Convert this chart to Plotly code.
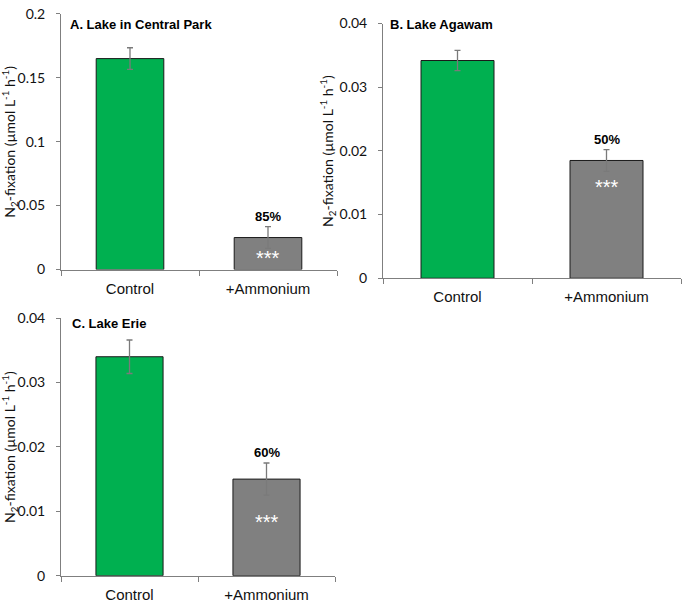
import plotly.graph_objects as go

W, H = 682, 608

categories = ["Control", "+Ammonium"]

panel_titles = ["A. Lake in Central Park", "B. Lake Agawam", "C. Lake Erie"]
values_A = [0.165, 0.025]
errors_A = [0.0085, 0.0085]
values_B = [0.0342, 0.0185]
errors_B = [0.0016, 0.0017]
values_C = [0.034, 0.015]
errors_C = [0.0026, 0.0025]
reduction_labels = ["85%", "50%", "60%"]
significance = ["***", "***", "***"]
y_max = [0.2, 0.04, 0.04]
y_dtick = [0.05, 0.01, 0.01]

values = [values_A, values_B, values_C]
errors = [errors_A, errors_B, errors_C]

bar_colors = ["#00B050", "#808080"]
axis_color = "#7f7f7f"

# pixel layout of each panel: (left, right, top, bottom)
px_boxes = [(61, 337, 5, 268), (383, 681, 15, 277), (61, 335, 318, 583)]
ytitle_x = [10, 328, 10]
title_pos = [(68, 16), (388, 16), (70, 324)]
star_shift = [-20, -27, -43]

fig = go.Figure()

def px_x(p):
    return p / W

def px_y(p):
    return 1 - p / H

layout = dict(
    width=W, height=H, margin=dict(l=0, r=0, t=0, b=0),
    paper_bgcolor="white", plot_bgcolor="white", showlegend=False,
    bargap=0.51,
)
annotations = []

ytitle = "N<sub>2</sub>-fixation (µmol L<sup>-1</sup> h<sup>-1</sup>)"

for i in range(3):
    sfx = "" if i == 0 else str(i + 1)
    l, r, t, b = px_boxes[i]
    fig.add_trace(go.Bar(
        x=categories, y=values[i],
        marker=dict(color=bar_colors, line=dict(color="#1a1a1a", width=1)),
        width=0.49,
        error_y=dict(type="data", array=errors[i], color="#7a7a7a", thickness=1.3, width=3),
        xaxis="x" + sfx, yaxis="y" + sfx,
    ))
    layout["xaxis" + sfx] = dict(
        domain=[px_x(l), px_x(r)], anchor="y" + sfx, type="category",
        range=[-0.5, 1.5], tickson="boundaries", ticks="outside", ticklen=5,
        tickcolor=axis_color, showline=True, linecolor=axis_color, linewidth=1,
        showgrid=False, zeroline=False,
        tickfont=dict(family="Liberation Sans, Arial", size=15, color="#111"),
        ticklabelstandoff=5,
    )
    layout["yaxis" + sfx] = dict(
        domain=[px_y(b), px_y(t)], anchor="x" + sfx,
        range=[0, y_max[i]], dtick=y_dtick[i], tick0=0,
        ticks="outside", ticklen=4, tickcolor=axis_color,
        showline=True, linecolor=axis_color, linewidth=1,
        showgrid=False, zeroline=False,
        tickfont=dict(family="Lato, Calibri", size=14, color="#111"),
        ticklabelstandoff=8,
    )
    # panel title
    annotations.append(dict(
        text="<b>%s</b>" % panel_titles[i], xref="paper", yref="paper",
        x=px_x(title_pos[i][0]), y=px_y(title_pos[i][1]),
        xanchor="left", yanchor="middle", showarrow=False,
        font=dict(family="Liberation Sans, Arial", size=13, color="#000"),
    ))
    # y-axis title
    annotations.append(dict(
        text=ytitle, xref="paper", yref="paper",
        x=px_x(ytitle_x[i]), y=(px_y(t) + px_y(b)) / 2,
        xanchor="center", yanchor="middle", textangle=-90, showarrow=False,
        font=dict(family="Lato, Calibri", size=14, color="#111"),
    ))
    # reduction percentage
    annotations.append(dict(
        text="<b>%s</b>" % reduction_labels[i], xref="x" + sfx, yref="y" + sfx,
        x=categories[1], y=values[i][1] + errors[i][1],
        xanchor="center", yanchor="bottom", showarrow=False, yshift=1,
        font=dict(family="Liberation Sans, Arial", size=13, color="#000"),
    ))
    # significance stars
    annotations.append(dict(
        text=significance[i], xref="x" + sfx, yref="y" + sfx,
        x=categories[1], y=values[i][1],
        xanchor="center", yanchor="middle", showarrow=False, yshift=star_shift[i],
        font=dict(family="Liberation Sans, Arial", size=20, color="white"),
    ))

layout["annotations"] = annotations
fig.update_layout(**layout)
fig.write_html("out.html")
